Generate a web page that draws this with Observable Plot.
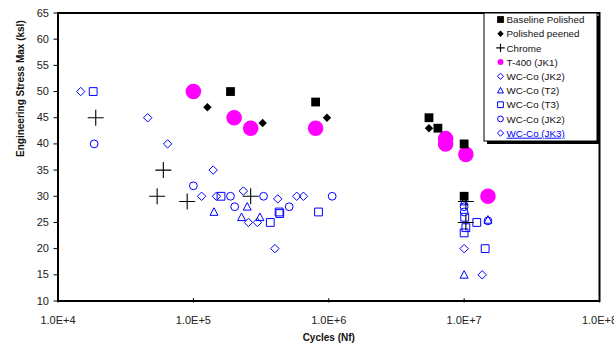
<!DOCTYPE html>
<html><head><meta charset="utf-8">
<script src="https://cdn.jsdelivr.net/npm/d3@7"></script>
<script src="https://cdn.jsdelivr.net/npm/@observablehq/plot@0.6"></script>
<style>body{margin:0;background:#fff} svg{display:block}</style>
</head><body><div id="chart"></div>
<script>
// ---- data ----
const xTicks = [1e4, 1e5, 1e6, 1e7, 1e8];
const yTicks = [10, 15, 20, 25, 30, 35, 40, 45, 50, 55, 60, 65];
const xLabel = "Cycles (Nf)";
const yLabel = "Engineering Stress Max (ksl)";
const seriesNames = ["Baseline Polished", "Polished peened", "Chrome", "T-400 (JK1)", "WC-Co (JK2)", "WC-Co (T2)", "WC-Co (T3)", "WC-Co (JK2)", "WC-Co (JK3)"];

const baselineN = [1.88e5, 8.0e5, 5.5e6, 6.4e6, 1.0e7, 1.0e7];
const baselineS = [50, 48, 45, 43, 40, 30];
const peenedN = [1.27e5, 3.25e5, 9.7e5, 5.5e6];
const peenedS = [47, 44, 45, 43];
const chromeN = [1.9e4, 6.0e4, 5.4e4, 9.0e4, 2.65e5, 1.03e7, 1.03e7];
const chromeS = [45, 35, 30, 29, 30, 29, 25];
const t400N = [1.0e5, 2.0e5, 2.65e5, 8.0e5, 7.3e6, 7.3e6, 1.03e7, 1.5e7];
const t400S = [50, 45, 43, 43, 41, 40, 38, 30];
const jk2dN = [1.47e4, 4.6e4, 6.45e4, 1.4e5, 1.15e5, 1.48e5, 2.34e5, 2.55e5, 2.97e5];
const jk2dS = [50, 45, 40, 35, 30, 30, 31, 25, 25];
const t2N = [1.42e5, 2.5e5, 2.27e5, 3.1e5, 1.0e7, 1.5e7, 1.0e7];
const t2S = [27, 28, 26, 26, 15, 25.5, 29];
const t3N = [1.82e4, 1.6e5, 4.3e5, 4.35e5, 3.7e5, 8.4e5, 1.01e7, 1.03e7, 1.0e7, 1.24e7, 1.43e7];
const t3S = [50, 30, 27, 26.7, 25, 27, 26, 24, 23, 25, 20];
const jk2cN = [1.85e4, 1.0e5, 1.88e5, 2.02e5, 3.3e5, 5.1e5, 1.06e6, 1.0e7, 1.0e7, 1.5e7];
const jk2cS = [40, 32, 30, 28, 30, 28, 30, 28, 27, 25.3];
const jk3N = [4.2e5, 5.8e5, 6.5e5, 4.0e5, 1.0e7, 1.36e7];
const jk3S = [29.5, 30, 30, 20, 20, 15];

// ---- custom symbols (r = half extent) ----
const half = s => Math.sqrt(s / Math.PI);
const symSquare = {draw(c, s){const r = half(s); c.rect(-r, -r, 2*r, 2*r);}};
const symDiamond = {draw(c, s){const r = half(s); c.moveTo(0,-r); c.lineTo(r,0); c.lineTo(0,r); c.lineTo(-r,0); c.closePath();}};
const symTriangle = {draw(c, s){const r = half(s); c.moveTo(0,-r); c.lineTo(r*0.95,r*0.8); c.lineTo(-r*0.95,r*0.8); c.closePath();}};
const symPlus = {draw(c, s){const r = half(s); c.moveTo(-r,0); c.lineTo(r,0); c.moveTo(0,-r); c.lineTo(0,r);}};
const symCircle = {draw(c, s){const r = half(s); c.moveTo(r,0); c.arc(0,0,r,0,2*Math.PI);}};

const BLUE = "#0000ff", MAG = "#ff00ff";
const styles = [
  {sym: symSquare, fill: "black", stroke: "none", r: 4.4, lr: 3.4, sw: 0},
  {sym: symDiamond, fill: "black", stroke: "none", r: 4.2, lr: 3.2, sw: 0},
  {sym: symPlus, fill: "none", stroke: "black", r: 8, lr: 4.2, sw: 1.1},
  {sym: symCircle, fill: MAG, stroke: "none", r: 7.8, lr: 3.0, sw: 0},
  {sym: symDiamond, fill: "none", stroke: BLUE, r: 4.2, lr: 3.1, sw: 1},
  {sym: symTriangle, fill: "none", stroke: BLUE, r: 4.2, lr: 3.1, sw: 1},
  {sym: symSquare, fill: "none", stroke: BLUE, r: 3.9, lr: 2.9, sw: 1},
  {sym: symCircle, fill: "none", stroke: BLUE, r: 3.9, lr: 2.9, sw: 1},
  {sym: symDiamond, fill: "none", stroke: BLUE, r: 4.2, lr: 3.1, sw: 1}
];
const seriesData = [
  [baselineN, baselineS], [peenedN, peenedS], [chromeN, chromeS], [t400N, t400S],
  [jk2dN, jk2dS], [t2N, t2S], [t3N, t3S], [jk2cN, jk2cS], [jk3N, jk3S]
];
const drawOrder = [4, 5, 6, 7, 8, 3, 2, 1, 0];

const marks = [];
for (const i of drawOrder) {
  const [N, S] = seriesData[i];
  const st = styles[i];
  const rows = N.map((n, k) => ({n, s: S[k]}));
  marks.push(Plot.dot(rows, {x: "n", y: "s", symbol: st.sym, r: st.r,
    fill: st.fill, stroke: st.stroke, strokeWidth: st.sw}));
}

const plot = Plot.plot({
  width: 614, height: 348,
  marginLeft: 57.5, marginRight: 15, marginTop: 12.5, marginBottom: 47.5,
  x: {type: "log", domain: [1e4, 1e8]},
  y: {type: "linear", domain: [10, 65]},
  style: {fontFamily: "'Liberation Sans', Arial, sans-serif", fontSize: "11px", color: "#222", background: "white"},
  marks: [
    Plot.axisY({ticks: yTicks, tickSize: 4, tickPadding: 5, label: null, stroke: "black"}),
    Plot.axisX({ticks: xTicks, tickSize: 2, tickPadding: 13, label: null, stroke: "black",
      tickFormat: d => "1.0E+" + Math.round(Math.log10(d))}),
    Plot.ruleX(xTicks, {x: d => d, y1: 10, y2: 10.45, stroke: "black", strokeWidth: 1}),
    ...marks,
    Plot.frame({stroke: "black", strokeWidth: 2}),
    Plot.text([yLabel], {frameAnchor: "left", dx: -37, rotate: -90, fontWeight: "bold", fontSize: 10, fill: "#111", letterSpacing: "0.3px"}),
    Plot.text([xLabel], {frameAnchor: "bottom", dy: 40, fontWeight: "bold", fontSize: 10, fill: "#111", letterSpacing: "0.6px"})
  ]
});

// ---- legend ----
const svg = d3.select(plot);
const lg = svg.append("g").attr("text-anchor", "start");
const bx = 484, by = 13, bw = 113, bh = 128;
lg.append("rect").attr("x", bx + 3).attr("y", by + 3).attr("width", bw).attr("height", bh).attr("fill", "black");
lg.append("rect").attr("x", bx).attr("y", by).attr("width", bw).attr("height", bh).attr("fill", "white").attr("stroke", "black").attr("stroke-width", 1);
seriesNames.forEach((name, i) => {
  const st = styles[i];
  const cy = 19.5 + i * 14.2;
  lg.append("path")
    .attr("d", d3.symbol(st.sym, Math.PI * st.lr * st.lr)())
    .attr("transform", `translate(500.5,${cy})`)
    .attr("fill", st.fill).attr("stroke", st.stroke).attr("stroke-width", st.sw);
  lg.append("text").attr("x", 506.5).attr("y", cy + 3.6)
    .attr("text-anchor", "start")
    .attr("font-size", 9.8).attr("letter-spacing", "0px")
    .attr("font-family", "'Liberation Sans', Arial, sans-serif")
    .attr("fill", i === 8 ? BLUE : "#111")
    .attr("text-decoration", i === 8 ? "underline" : null)
    .text(name);
});

document.getElementById("chart").appendChild(plot);
</script>
</body></html>
